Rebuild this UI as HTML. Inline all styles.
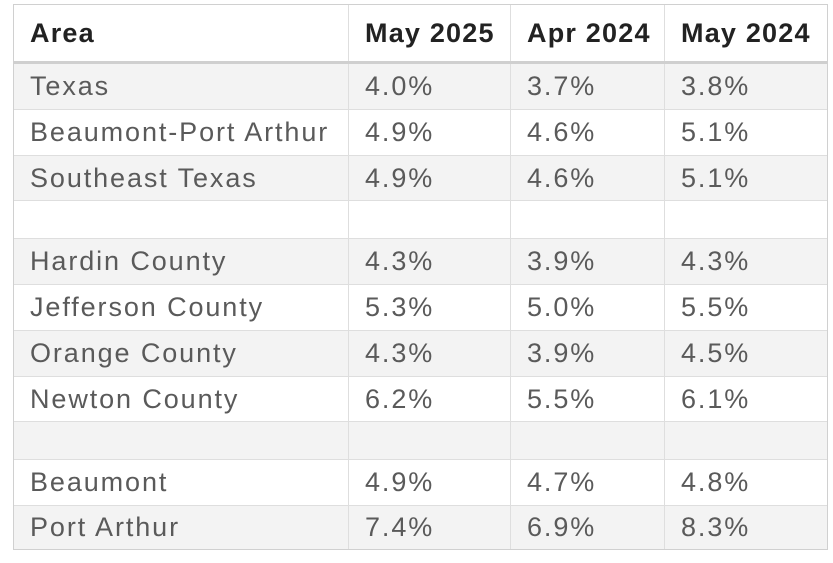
<!DOCTYPE html>
<html><head><meta charset="utf-8"><style>
html,body{margin:0;padding:0;background:#fff;width:833px;height:563px;overflow:hidden}
#tbl{position:absolute;left:13px;top:4px;width:815px;height:546px;border:1px solid #d0d0d0;box-sizing:border-box;font-family:"Liberation Sans",sans-serif}
.row{position:absolute;left:0;width:813px;border-bottom:1px solid #dedede;box-sizing:border-box}
.cell{position:absolute;top:0;bottom:0;display:flex;align-items:center;box-sizing:border-box;padding-left:16px;font-size:27px;letter-spacing:1.9px;color:#5a5a5a;border-right:1px solid #dedede;white-space:nowrap}
.hdr .cell{font-weight:bold;color:#222;font-size:27px;letter-spacing:1.2px}
.c0{left:0;width:335px}.c1{left:335px;width:162px}.c2{left:497px;width:154px}.c3{left:651px;width:162px;border-right:none}
.g{background:#f3f3f3}
</style></head><body>
<div id="tbl">
<div class="row hdr" style="top:0;height:59px;border-bottom:3px solid #cfcfcf">
<div class="cell c0">Area</div>
<div class="cell c1">May 2025</div>
<div class="cell c2">Apr 2024</div>
<div class="cell c3">May 2024</div>
</div>
<div class="row g" style="top:59px;height:46px"><div class="cell c0">Texas</div><div class="cell c1">4.0%</div><div class="cell c2">3.7%</div><div class="cell c3">3.8%</div></div>
<div class="row" style="top:105px;height:46px"><div class="cell c0">Beaumont-Port Arthur</div><div class="cell c1">4.9%</div><div class="cell c2">4.6%</div><div class="cell c3">5.1%</div></div>
<div class="row g" style="top:151px;height:45px"><div class="cell c0">Southeast Texas</div><div class="cell c1">4.9%</div><div class="cell c2">4.6%</div><div class="cell c3">5.1%</div></div>
<div class="row" style="top:196px;height:38px"><div class="cell c0"></div><div class="cell c1"></div><div class="cell c2"></div><div class="cell c3"></div></div>
<div class="row g" style="top:234px;height:46px"><div class="cell c0">Hardin County</div><div class="cell c1">4.3%</div><div class="cell c2">3.9%</div><div class="cell c3">4.3%</div></div>
<div class="row" style="top:280px;height:46px"><div class="cell c0">Jefferson County</div><div class="cell c1">5.3%</div><div class="cell c2">5.0%</div><div class="cell c3">5.5%</div></div>
<div class="row g" style="top:326px;height:46px"><div class="cell c0">Orange County</div><div class="cell c1">4.3%</div><div class="cell c2">3.9%</div><div class="cell c3">4.5%</div></div>
<div class="row" style="top:372px;height:45px"><div class="cell c0">Newton County</div><div class="cell c1">6.2%</div><div class="cell c2">5.5%</div><div class="cell c3">6.1%</div></div>
<div class="row g" style="top:417px;height:38px"><div class="cell c0"></div><div class="cell c1"></div><div class="cell c2"></div><div class="cell c3"></div></div>
<div class="row" style="top:455px;height:46px"><div class="cell c0">Beaumont</div><div class="cell c1">4.9%</div><div class="cell c2">4.7%</div><div class="cell c3">4.8%</div></div>
<div class="row g" style="top:501px;height:43px;border-bottom:none"><div class="cell c0">Port Arthur</div><div class="cell c1">7.4%</div><div class="cell c2">6.9%</div><div class="cell c3">8.3%</div></div>
</div>
</body></html>
